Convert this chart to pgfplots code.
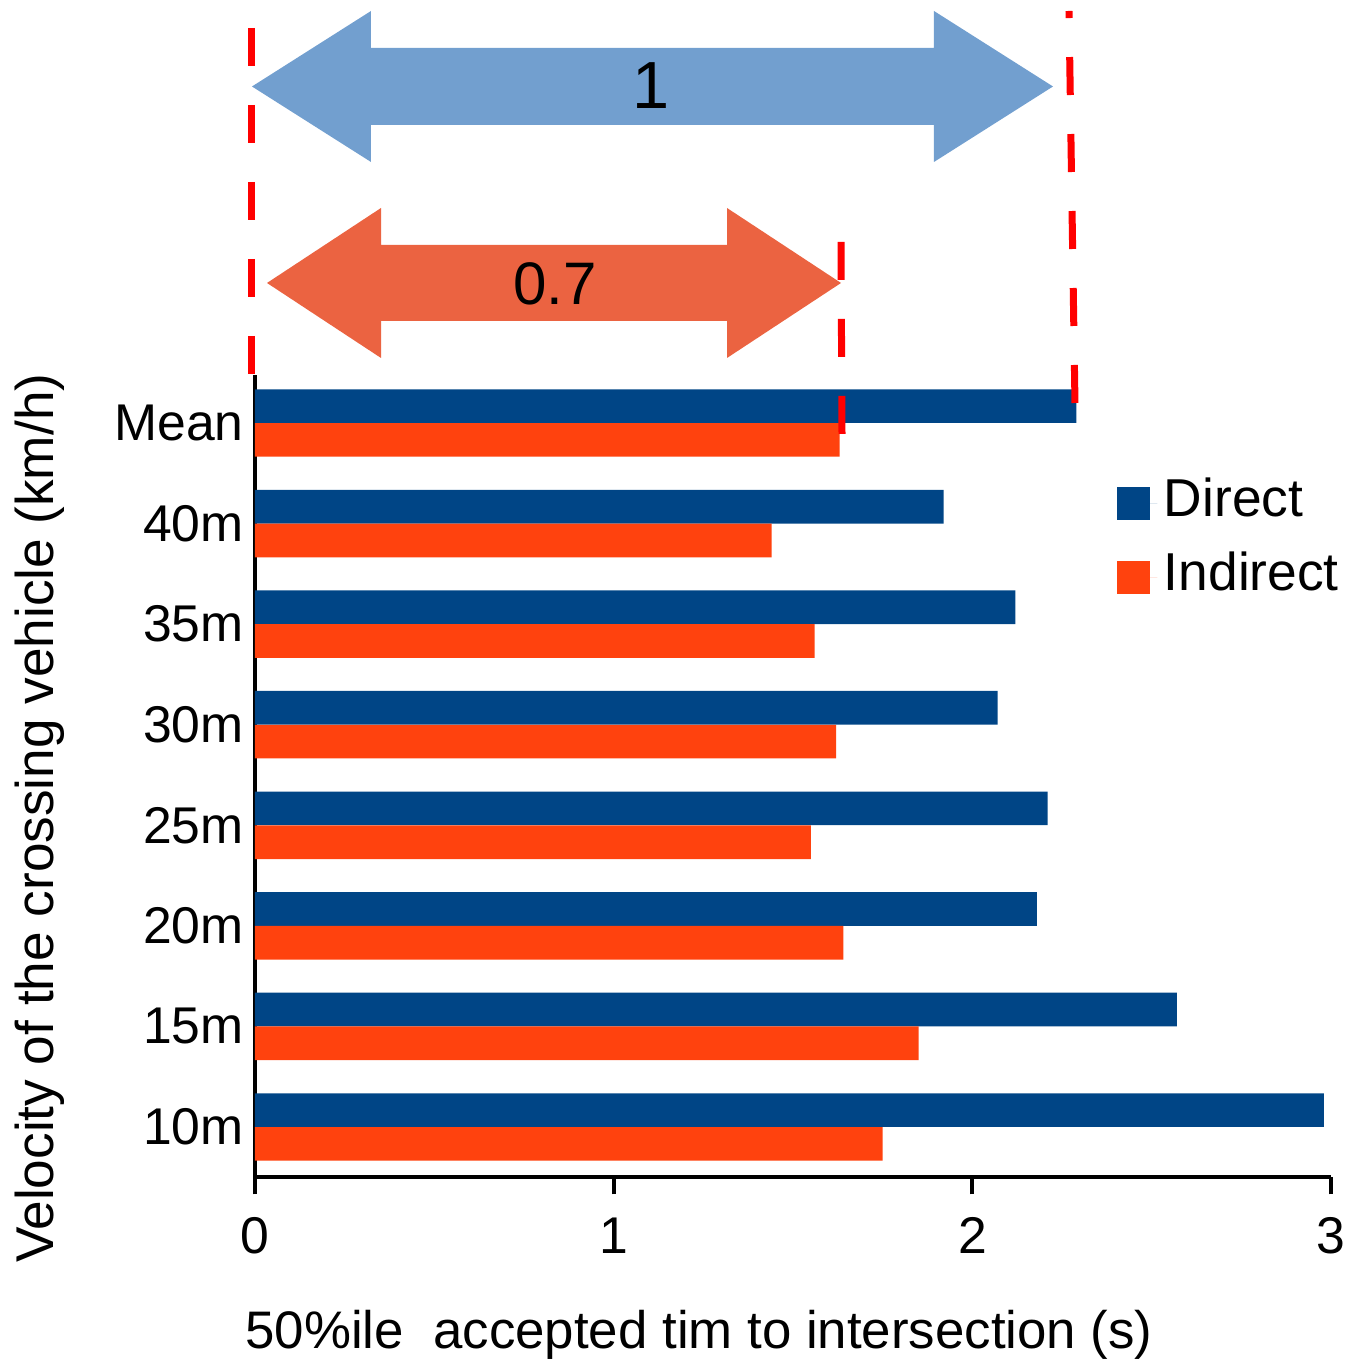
\documentclass[border=0pt]{standalone}
\usepackage{fontspec}
\setmainfont{Liberation Sans}
\usepackage{pgfplots}
\pgfplotsset{compat=1.18}

\definecolor{direct}{HTML}{004586}
\definecolor{indirect}{HTML}{FF420E}
\definecolor{arrowblue}{HTML}{729FCF}
\definecolor{arroworange}{HTML}{EB6341}
\definecolor{guide}{HTML}{FF0000}

\begin{document}
\begin{tikzpicture}
\begin{axis}[
  x=107.61pt, y=30.171pt,
  xmin=0, xmax=3, ymin=-0.5, ymax=7.48,
  axis x line*=bottom, axis y line*=left,
  axis line style={line width=1.2pt, -},
  xbar, bar width=0.335,
  xtick={0,1,2,3},
  ytick={0,...,7},
  yticklabels={10m,15m,20m,25m,30m,35m,40m,Mean},
  tick align=outside,
  major tick length=5.1pt,
  xtick style={line width=1.2pt, black},
  ytick style={draw=none},
  tick label style={font=\fontsize{15.5}{18}\selectfont},
  /pgf/number format/assume math mode=true,
  xticklabel style={yshift=-3.5pt},
  yticklabel style={xshift=5.2pt},
  xlabel={50\%ile\ \ accepted tim to intersection (s)},
  xlabel style={at={(axis cs:1.238,-2.07)}, anchor=center, inner sep=0pt,
    font=\fontsize{15.85}{18}\selectfont},
  ylabel={Velocity of the crossing vehicle (km/h)},
  ylabel style={at={(axis cs:-0.6,3.07)}, anchor=center, inner sep=0pt,
    font=\fontsize{15.95}{18}\selectfont},
  clip=false,
  legend cell align=left,
  legend style={at={(axis cs:2.402,6.525)}, anchor=north west, draw=none, fill=none,
    inner sep=0pt, row sep=3.25pt, font=\fontsize{16}{18}\selectfont,
    nodes={inner sep=2pt, text height=11.5pt, text depth=3.5pt}},
  legend image code/.code={\fill[#1] (0pt,-4.95pt) rectangle (9.9pt,4.95pt);
    \path (0pt,0pt) -- (12pt,0pt);},
]
% Direct
\addplot[fill=direct, draw=none, bar shift=0.168] coordinates {
  (2.98,0) (2.57,1) (2.18,2) (2.21,3) (2.07,4) (2.12,5) (1.92,6) (2.29,7)
};
% Indirect
\addplot[fill=indirect, draw=none, bar shift=-0.168] coordinates {
  (1.75,0) (1.85,1) (1.64,2) (1.55,3) (1.62,4) (1.56,5) (1.44,6) (1.63,7)
};
\legend{Direct, Indirect}

% picture extent
\path (axis cs:-0.7109,-2.3765) rectangle (axis cs:3.0722,11.2061);

% double-headed block arrows
\fill[arrowblue] (axis cs:-0.0084,10.3460) -- (axis cs:0.3234,11.0967) -- (axis cs:0.3234,10.7288)
  -- (axis cs:1.8929,10.7288) -- (axis cs:1.8929,11.0967) -- (axis cs:2.2247,10.3460)
  -- (axis cs:1.8929,9.5953) -- (axis cs:1.8929,9.9632) -- (axis cs:0.3234,9.9632)
  -- (axis cs:0.3234,9.5953) -- cycle;
\node[font=\fontsize{20}{24}\selectfont] at (axis cs:1.1040,10.351) {1};

\fill[arroworange] (axis cs:0.0335,8.3922) -- (axis cs:0.3513,9.1379) -- (axis cs:0.3513,8.7700)
  -- (axis cs:1.3159,8.7700) -- (axis cs:1.3159,9.1379) -- (axis cs:1.6337,8.3922)
  -- (axis cs:1.3159,7.6464) -- (axis cs:1.3159,8.0143) -- (axis cs:0.3513,8.0143)
  -- (axis cs:0.3513,7.6464) -- cycle;
\node[font=\fontsize{18}{22}\selectfont] at (axis cs:0.8364,8.382) {0.7};

% dashed guide lines
\begin{scope}[guide, line width=2.1pt, dash pattern=on 11.4pt off 11.7pt]
  \draw (axis cs:-0.0084,10.9277) -- (axis cs:-0.0084,7.4873);
  \draw (axis cs:1.6337,8.7999) -- (axis cs:1.6365,6.8907);
  \draw (axis cs:2.2860,7.1990) -- (axis cs:2.2693,11.0967);
\end{scope}
\end{axis}
\end{tikzpicture}
\end{document}
